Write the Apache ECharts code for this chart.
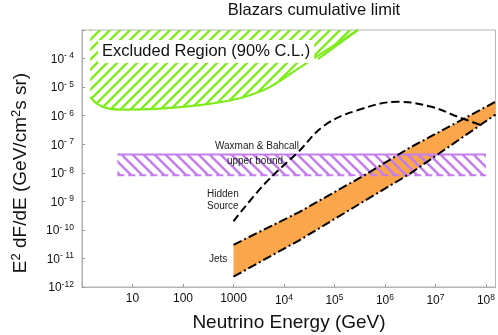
<!DOCTYPE html>
<html>
<head>
<meta charset="utf-8">
<script src="https://cdn.jsdelivr.net/npm/echarts@6/dist/echarts.min.js"></script>
<style>
  html, body { margin: 0; padding: 0; background: #fff; }
  #chart { width: 498px; height: 335px; }
</style>
</head>
<body>
<div id="chart"></div>
<script>
  // tick labels (index = decade exponent)
  var xTickBase = ['', '10', '100', '1000', '10', '10', '10', '10', '10'];
  var xTickSup = ['', '', '', '', '4', '5', '6', '7', '8'];
  var yTickSup = {'-12': '-12', '-11': '- 11', '-10': '- 10', '-9': '- 9', '-8': '- 8',
                  '-7': '- 7', '-6': '- 6', '-5': '- 5', '-4': '- 4'};

  // excluded region (lower edge of the 90% C.L. limit)
  var exclE = [1.45, 2, 3.1, 7, 35, 216, 850, 2100, 5200, 2.05e4, 8e4, 2.9e5];
  var exclFlux = [4.5e-6, 2.6e-6, 1.84e-6, 1.63e-6, 1.77e-6, 2.34e-6, 3.4e-6, 5.2e-6, 1e-5, 4.8e-5, 2.3e-4, 1e-3];
  var exclEdgeE = [4.7e4, 2.9e5];
  var exclEdgeFlux = [9.6e-5, 1e-3];

  // Waxman & Bahcall upper bound band
  var wbE = [5, 1e8];
  var wbLow = [8.2e-9, 8.2e-9];
  var wbHigh = [4.4e-8, 4.4e-8];

  // hidden source
  var hsE = [1e3, 4.2e3, 1.92e4, 6.5e4, 2.95e5, 1.82e6, 8.3e6, 2.8e7, 7.9e7];
  var hsFlux = [2e-10, 4.2e-9, 5.4e-8, 4.7e-7, 1.57e-6, 3.06e-6, 2.04e-6, 9.1e-7, 4.7e-7];

  // jets band
  var jetE = [1e3, 2e4, 4e5, 3e6, 1.55e8];
  var jetHigh = [3e-11, 4.2e-10, 8.4e-9, 7.3e-8, 3.1e-6];
  var jetLow = [2.3e-12, 4.3e-11, 1.05e-9, 8.9e-9, 1.1e-6];

  var lg = Math.log10;
  function pts(xs, ys) {
    return xs.map(function (x, i) { return [lg(x), lg(ys[i])]; });
  }

  function hatch(color, size, width, up) {
    var c = document.createElement('canvas');
    c.width = c.height = size;
    var g = c.getContext('2d');
    g.strokeStyle = color;
    g.lineWidth = width;
    g.beginPath();
    if (up) {
      g.moveTo(-size, size * 2); g.lineTo(size * 2, -size);
      g.moveTo(-size, size); g.lineTo(size, -size);
      g.moveTo(0, size * 2); g.lineTo(size * 2, 0);
    } else {
      g.moveTo(-size, -size); g.lineTo(size * 2, size * 2);
      g.moveTo(0, -size); g.lineTo(size * 2, size);
      g.moveTo(-size, 0); g.lineTo(size, size * 2);
    }
    g.stroke();
    return c;
  }

  // band between two curves, drawn through the axes
  function band(xs, hi, lo, fill, z) {
    return {
      type: 'custom', z: z, clip: true, silent: true,
      data: [[lg(xs[0]), lg(lo[0])]],
      renderItem: function (params, api) {
        var top = xs.map(function (x, i) { return api.coord([lg(x), lg(hi[i])]); });
        var bot = xs.map(function (x, i) { return api.coord([lg(x), lg(lo[i])]); }).reverse();
        return { type: 'polygon', shape: { points: top.concat(bot) }, style: { fill: fill } };
      }
    };
  }

  var green = '#7fec1c';
  var purple = '#c47ef0';
  var font = '"Liberation Sans", Arial, sans-serif';

  var chart = echarts.init(document.getElementById('chart'));

  var option = {
    animation: false,
    grid: {
      left: 82, right: 2, top: 30, bottom: 48,
      show: true, borderColor: '#b4b4b4', borderWidth: 1
    },
    xAxis: {
      type: 'value', min: 0, max: 8.19, interval: 1,
      axisLine: { lineStyle: { color: '#b4b4b4' } },
      axisTick: { inside: true, length: 3, lineStyle: { color: '#999' } },
      splitLine: { show: false },
      axisLabel: {
        margin: 6,
        showMaxLabel: false,
        formatter: function (v) {
          if (Math.abs(v - Math.round(v)) > 1e-6) return '';
          var i = Math.round(v);
          if (!xTickBase[i]) return '';
          return '{b|' + xTickBase[i] + '}' + (xTickSup[i] ? '{s|' + xTickSup[i] + '}' : '');
        },
        rich: {
          b: { fontSize: 12, fontFamily: font, color: '#111', verticalAlign: 'bottom' },
          s: { fontSize: 8.5, fontFamily: font, color: '#111', verticalAlign: 'bottom', padding: [0, 0, 5, 0] }
        }
      }
    },
    yAxis: {
      type: 'value', min: -12, max: -3, interval: 1,
      axisLine: { lineStyle: { color: '#b4b4b4' } },
      axisTick: { inside: true, length: 3, lineStyle: { color: '#999' } },
      splitLine: { show: false },
      axisLabel: {
        margin: 8,
        formatter: function (v) {
          var s = yTickSup[String(v)];
          if (!s) return '';
          return '{b|10}{s|' + s + '}';
        },
        rich: {
          b: { fontSize: 12, fontFamily: font, color: '#111', verticalAlign: 'bottom' },
          s: { fontSize: 8.5, fontFamily: font, color: '#111', verticalAlign: 'bottom', padding: [0, 0, 5, 0] }
        }
      }
    },
    series: [
      {
        name: 'Excluded', type: 'line', z: 2, smooth: 0.3, showSymbol: false,
        data: pts(exclE, exclFlux),
        lineStyle: { color: green, width: 2.2 },
        areaStyle: { origin: 'end', opacity: 1, color: { image: hatch(green, 10, 2.3, true), repeat: 'repeat' } }
      },
      {
        name: 'ExcludedEdge', type: 'line', z: 2, showSymbol: false,
        data: pts(exclEdgeE, exclEdgeFlux),
        lineStyle: { color: green, width: 2.2 }
      },
      band(jetE, jetHigh, jetLow, '#fca64b', 3),
      band(wbE, wbHigh, wbLow, { image: hatch(purple, 11, 2.5, false), repeat: 'repeat' }, 4),
      {
        name: 'WBLow', type: 'line', z: 4, showSymbol: false,
        data: pts(wbE, wbLow),
        lineStyle: { color: purple, width: 2, type: [7, 4] }
      },
      {
        name: 'WBHigh', type: 'line', z: 4, showSymbol: false,
        data: pts(wbE, wbHigh),
        lineStyle: { color: purple, width: 2 }
      },
      {
        name: 'JetsHigh', type: 'line', z: 5, showSymbol: false,
        data: pts(jetE, jetHigh),
        lineStyle: { color: '#000', width: 2, type: [9, 3, 2, 3] }
      },
      {
        name: 'JetsLow', type: 'line', z: 5, showSymbol: false,
        data: pts(jetE, jetLow),
        lineStyle: { color: '#000', width: 2, type: [9, 3, 2, 3] }
      },
      {
        name: 'Hidden Source', type: 'line', z: 5, smooth: 0.4, showSymbol: false,
        data: pts(hsE, hsFlux),
        lineStyle: { color: '#000', width: 2, type: [8, 4] }
      }
    ],
    graphic: [
      {
        type: 'text', x: 314, y: 10, z: 10,
        style: { text: 'Blazars cumulative limit', font: '16.5px ' + font, fill: '#111', align: 'center', verticalAlign: 'middle' }
      },
      {
        type: 'text', x: 98, y: 40, z: 10,
        style: {
          text: 'Excluded Region (90% C.L.)', font: '16.5px ' + font, fill: '#111',
          backgroundColor: '#fff', padding: [3, 4, 3, 4], align: 'left', verticalAlign: 'top'
        }
      },
      {
        type: 'text', x: 257, y: 146, z: 10,
        style: { text: 'Waxman & Bahcall', font: '10px ' + font, fill: '#222', align: 'center', verticalAlign: 'middle' }
      },
      {
        type: 'text', x: 255, y: 161, z: 10,
        style: { text: 'upper bound', font: '10px ' + font, fill: '#222', align: 'center', verticalAlign: 'middle' }
      },
      {
        type: 'text', x: 207, y: 194, z: 10,
        style: { text: 'Hidden', font: '10px ' + font, fill: '#222', align: 'left', verticalAlign: 'middle' }
      },
      {
        type: 'text', x: 207, y: 206, z: 10,
        style: { text: 'Source', font: '10px ' + font, fill: '#222', align: 'left', verticalAlign: 'middle' }
      },
      {
        type: 'text', x: 209, y: 259, z: 10,
        style: { text: 'Jets', font: '10px ' + font, fill: '#222', align: 'left', verticalAlign: 'middle' }
      },
      {
        type: 'text', x: 289, y: 323, z: 10,
        style: { text: 'Neutrino Energy (GeV)', font: '19px ' + font, fill: '#111', align: 'center', verticalAlign: 'middle' }
      },
      {
        type: 'text', x: 20, y: 173, z: 10, rotation: Math.PI / 2,
        style: {
          text: '{n|E}{s|2}{n| dF/dE (GeV/cm}{s|2}{n|s sr)}',
          align: 'center', verticalAlign: 'middle',
          rich: {
            n: { fontSize: 19, fontFamily: font, fill: '#111', verticalAlign: 'bottom' },
            s: { fontSize: 13, fontFamily: font, fill: '#111', verticalAlign: 'bottom', padding: [0, 0, 7, 0] }
          }
        }
      }
    ]
  };

  chart.setOption(option);
</script>
</body>
</html>
